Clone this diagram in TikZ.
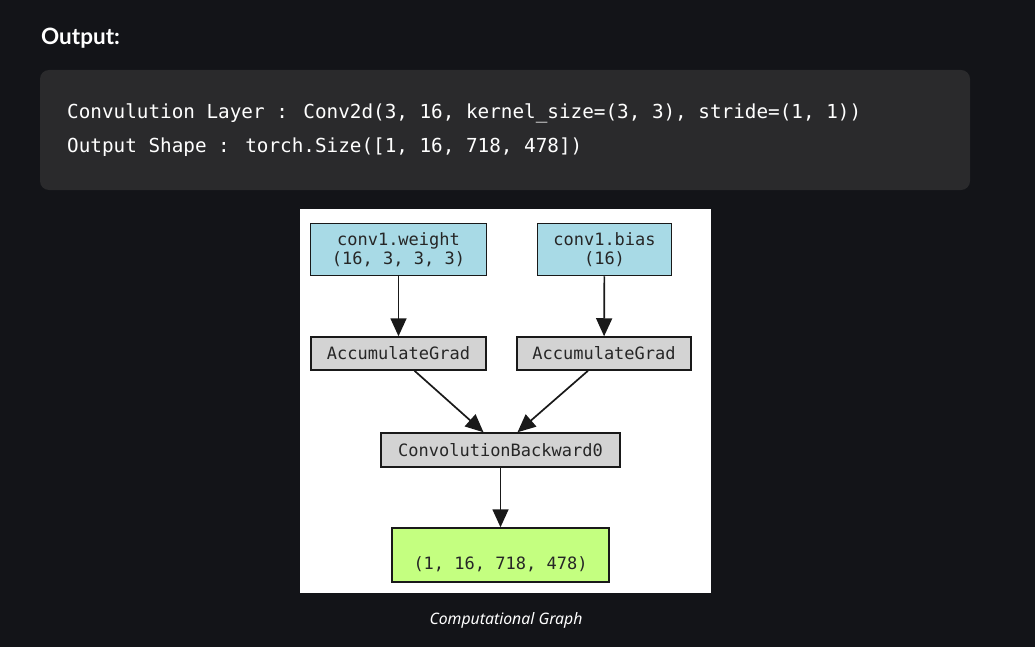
\documentclass[tikz,border=0pt]{standalone}
\usepackage{fontspec}
\setmainfont{Lato}
\newfontfamily\codefont{DejaVu Sans Mono}
\newfontfamily\capfont{Noto Sans}
\usetikzlibrary{arrows.meta}
\definecolor{pagebg}{HTML}{131418}
\definecolor{codebg}{HTML}{2A2A2C}
\definecolor{leafblue}{HTML}{A8DAE6}
\definecolor{opgray}{HTML}{D3D3D3}
\definecolor{outgreen}{HTML}{C4FF80}
\begin{document}
\begin{tikzpicture}[x=1pt,y=-1pt,
  gnode/.style={draw=black!90, line width=1.5pt, inner sep=0pt, font=\codefont\fontsize{17}{18.5}\selectfont, align=center, text=black!85},
  edge/.style={draw=black!90, line width=1.7pt, -{Triangle[length=18pt,width=16pt]}}]
\fill[pagebg] (0,0) rectangle (1035,647);
\useasboundingbox (0,0) rectangle (1035,647);
\node[anchor=west, inner sep=0pt, text=white, font=\bfseries\fontsize{22.5}{24}\selectfont] (title) at (41,38) {Output:};
\fill[codebg, rounded corners=9pt] (40,70) rectangle (970,190);
\node[anchor=west, text=white, font=\codefont\fontsize{19.3}{22}\selectfont, inner sep=0pt] (l1) at (67,113) {Convulution Layer : Conv2d(3, 16, kernel\_size=(3, 3), stride=(1, 1))};
\node[anchor=west, text=white, font=\codefont\fontsize{19.3}{22}\selectfont, inner sep=0pt] (l2) at (67,147) {Output Shape : torch.Size([1, 16, 718, 478])};
\fill[white] (300,209) rectangle (711,593);
\node[gnode, fill=leafblue, minimum width=176pt, minimum height=52pt] (w) at (398.5,249.5) {conv1.weight\\(16, 3, 3, 3)};
\node[gnode, fill=leafblue, minimum width=134pt, minimum height=52pt] (b) at (604.5,249.5) {conv1.bias\\(16)};
\node[gnode, fill=opgray, minimum width=175pt, minimum height=33pt] (ga) at (398.5,353.5) {AccumulateGrad};
\node[gnode, fill=opgray, minimum width=174pt, minimum height=33pt] (gb) at (604,353.5) {AccumulateGrad};
\node[gnode, fill=opgray, minimum width=239pt, minimum height=34pt] (cb) at (500.5,450) {ConvolutionBackward0};
\node[gnode, fill=outgreen, minimum width=217pt, minimum height=54pt] (out) at (500.5,555) {\raisebox{-14pt}[0pt][0pt]{(1, 16, 718, 478)}};
\draw[edge] (w) -- (ga);
\draw[edge] (b) -- (gb);
\coordinate (s1) at ([xshift=16pt]ga.south);
\coordinate (e1) at ([xshift=-17pt]cb.north);
\coordinate (s2) at ([xshift=-16pt]gb.south);
\coordinate (e2) at ([xshift=17pt]cb.north);
\draw[edge] (s1) -- (e1);
\draw[edge] (s2) -- (e2);
\draw[edge] (cb) -- (out);
\node[text=white, font=\capfont\itshape\fontsize{15.8}{18}\selectfont] (cap) at (506,620) {Computational Graph};
\end{tikzpicture}
\end{document}
